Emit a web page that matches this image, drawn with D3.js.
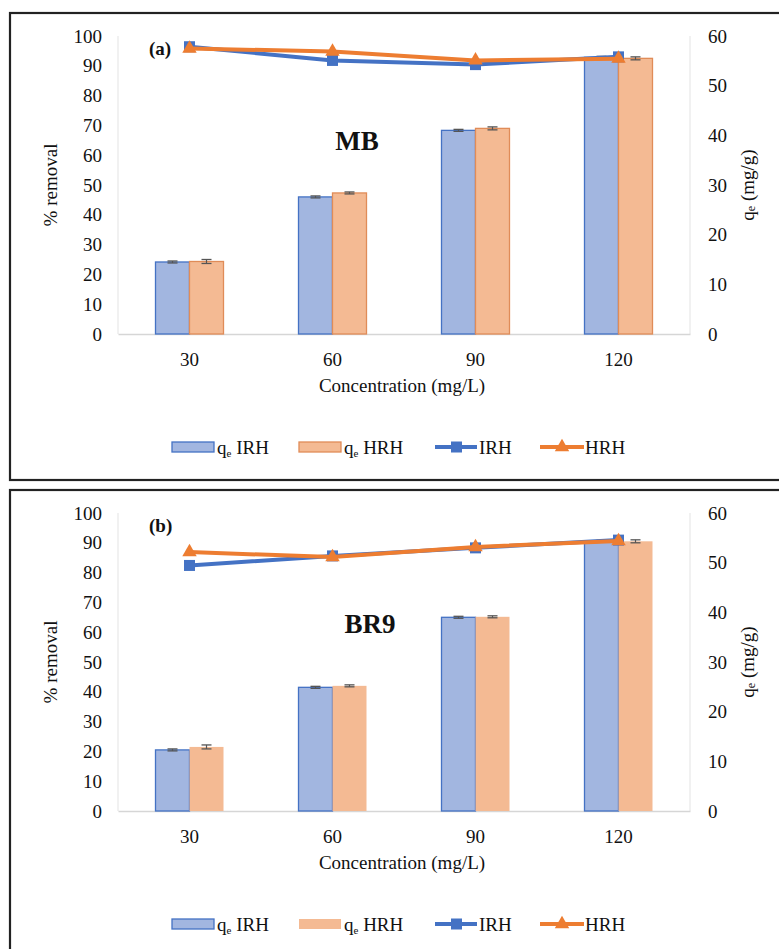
<!DOCTYPE html>
<html>
<head>
<meta charset="utf-8">
<script src="https://cdn.jsdelivr.net/npm/d3@7"></script>
<style>
  html, body { margin: 0; padding: 0; background: #fff; }
  svg { display: block; }
  svg text { font-family: "Liberation Serif", Tinos, "Times New Roman", "DejaVu Serif", serif !important; fill: #111; }
</style>
</head>
<body>
<svg id="chart" width="779" height="949"></svg>
<script>
// Concentrations on the x axis
const concentrations = ["30", "60", "90", "120"];

// Left axis: % removal ticks; right axis: qe ticks
const removalTicks = [0, 10, 20, 30, 40, 50, 60, 70, 80, 90, 100];
const qeTicks = [0, 10, 20, 30, 40, 50, 60];

// (a) MB
const mbRemovalIRH = [96.4, 91.8, 90.4, 93.0];
const mbRemovalHRH = [95.8, 94.8, 91.8, 92.4];
const mbQeIRH = [14.5, 27.6, 41.0, 55.7];
const mbQeHRH = [14.6, 28.4, 41.4, 55.5];
const mbQeErrIRH = [0.2, 0.2, 0.2, 0.2];
const mbQeErrHRH = [0.4, 0.2, 0.3, 0.3];

// (b) BR9
const br9RemovalIRH = [82.4, 85.6, 88.3, 90.9];
const br9RemovalHRH = [86.9, 85.2, 88.6, 90.6];
const br9QeIRH = [12.3, 24.9, 39.0, 54.3];
const br9QeHRH = [12.9, 25.2, 39.1, 54.3];
const br9QeErrIRH = [0.2, 0.2, 0.2, 0.2];
const br9QeErrHRH = [0.4, 0.2, 0.2, 0.3];

const blue = "#4472C4", orange = "#ED7D31";
const blueFill = "#A2B6E0", orangeFill = "#F4BA93";
const serif = '"Liberation Serif", Tinos, "Times New Roman", "DejaVu Serif", serif';

const svg = d3.select("#chart");

function drawPanel(opt) {
  const g = svg.append("g").attr("transform", `translate(0,${opt.top})`);

  // panel frame
  g.append("rect")
    .attr("x", 10).attr("y", 0)
    .attr("width", 790).attr("height", opt.frameH)
    .attr("fill", "none").attr("stroke", "#222").attr("stroke-width", 2.2);

  const x0 = 118, x1 = 690, yTop = 23, yBot = 321;
  const x = d3.scaleBand().domain(concentrations).range([x0, x1]);
  const yL = d3.scaleLinear().domain([0, 100]).range([yBot, yTop]);
  const yR = d3.scaleLinear().domain([0, 60]).range([yBot, yTop]);

  // axis frame lines (light grey)
  g.append("line").attr("x1", x0).attr("x2", x0).attr("y1", yTop).attr("y2", yBot)
    .attr("stroke", "#e3e3e3").attr("stroke-width", 1);
  g.append("line").attr("x1", x1).attr("x2", x1).attr("y1", yTop).attr("y2", yBot)
    .attr("stroke", "#e3e3e3").attr("stroke-width", 1);

  const styleTicks = sel => sel.selectAll("text")
    .style("font-size", "19px").style("font-family", serif).attr("fill", "#111");

  // left axis
  const gL = g.append("g").attr("transform", `translate(${x0},0)`)
    .call(d3.axisLeft(yL).tickValues(removalTicks).tickSize(0).tickPadding(16));
  gL.attr("font-family", null);
  gL.select(".domain").remove();
  styleTicks(gL);

  // right axis
  const gR = g.append("g").attr("transform", `translate(${x1},0)`)
    .call(d3.axisRight(yR).tickValues(qeTicks).tickSize(0).tickPadding(18));
  gR.attr("font-family", null);
  gR.select(".domain").remove();
  styleTicks(gR);

  // bottom axis
  const gB = g.append("g").attr("transform", `translate(0,${yBot})`)
    .call(d3.axisBottom(x).tickSize(0).tickPadding(19));
  gB.attr("font-family", null);
  gB.select(".domain").attr("stroke", "#d6d6d6").attr("stroke-width", 1.5);
  styleTicks(gB);

  // axis titles
  g.append("text")
    .attr("transform", `translate(50,${(yTop + yBot) / 2}) rotate(-90)`)
    .attr("text-anchor", "middle").attr("dominant-baseline", "central")
    .style("font-size", "19px").text("% removal");
  const rt = g.append("text")
    .attr("transform", `translate(747,${(yTop + yBot) / 2}) rotate(-90)`)
    .attr("text-anchor", "middle").attr("dominant-baseline", "central")
    .style("font-size", "19px");
  rt.append("tspan").text("q");
  rt.append("tspan").attr("dy", 4).style("font-size", "12px").text("e");
  rt.append("tspan").attr("dy", -4).text(" (mg/g)");
  g.append("text")
    .attr("x", (x0 + x1) / 2 - 2).attr("y", yBot + 58)
    .attr("text-anchor", "middle").style("font-size", "19px")
    .text("Concentration (mg/L)");

  // bars (right axis)
  const bw = 34;
  const cx = c => x(c) + x.bandwidth() / 2;
  const barSeries = [
    { vals: opt.qeIRH, err: opt.qeErrIRH, fill: blueFill, stroke: blue, off: -bw },
    { vals: opt.qeHRH, err: opt.qeErrHRH, fill: orangeFill, stroke: opt.orangeBarStroke, off: 0 }
  ];
  barSeries.forEach(s => {
    g.selectAll(null).data(concentrations).enter().append("rect")
      .attr("x", c => cx(c) + s.off)
      .attr("y", (c, i) => yR(s.vals[i]))
      .attr("width", bw)
      .attr("height", (c, i) => yR(0) - yR(s.vals[i]))
      .attr("fill", s.fill)
      .attr("stroke", s.stroke).attr("stroke-width", s.stroke === "none" ? 0 : 1.3);
    // error bars
    concentrations.forEach((c, i) => {
      const ex = cx(c) + s.off + bw / 2;
      const yh = yR(s.vals[i] + s.err[i]), yl = yR(s.vals[i] - s.err[i]);
      g.append("line").attr("x1", ex).attr("x2", ex).attr("y1", yh).attr("y2", yl)
        .attr("stroke", "#555").attr("stroke-width", 1.2);
      [yh, yl].forEach(yy => g.append("line")
        .attr("x1", ex - 5).attr("x2", ex + 5).attr("y1", yy).attr("y2", yy)
        .attr("stroke", "#555").attr("stroke-width", 1.3));
    });
  });

  // lines (left axis)
  const line = d3.line().x((d, i) => cx(concentrations[i])).y(d => yL(d));
  g.append("path").datum(opt.remIRH).attr("d", line)
    .attr("fill", "none").attr("stroke", blue).attr("stroke-width", 4);
  g.selectAll(null).data(opt.remIRH).enter().append("rect")
    .attr("x", (d, i) => cx(concentrations[i]) - 5.5)
    .attr("y", d => yL(d) - 5.5).attr("width", 11).attr("height", 11)
    .attr("fill", blue);
  g.append("path").datum(opt.remHRH).attr("d", line)
    .attr("fill", "none").attr("stroke", orange).attr("stroke-width", 4);
  const tri = d3.symbol().type(d3.symbolTriangle).size(90);
  g.selectAll(null).data(opt.remHRH).enter().append("path")
    .attr("d", tri)
    .attr("transform", (d, i) => `translate(${cx(concentrations[i])},${yL(d)})`)
    .attr("fill", orange);

  // panel labels
  g.append("text").attr("x", 149).attr("y", yTop + 19)
    .style("font-size", "19px").style("font-weight", "bold").text(opt.tag);
  g.append("text").attr("x", opt.nameX).attr("y", yTop + opt.nameY)
    .attr("text-anchor", "middle")
    .style("font-size", "27px").style("font-weight", "bold").text(opt.name);

  // legend
  const lg = g.append("g").attr("transform", "translate(0,434)");
  lg.append("rect").attr("x", 172).attr("y", -5).attr("width", 42).attr("height", 10)
    .attr("fill", blueFill).attr("stroke", blue).attr("stroke-width", 1.3);
  lg.append("rect").attr("x", 299).attr("y", -5).attr("width", 42).attr("height", 10)
    .attr("fill", orangeFill).attr("stroke", opt.orangeBarStroke)
    .attr("stroke-width", opt.orangeBarStroke === "none" ? 0 : 1.3);
  const lbl = (xx, txt, sub) => {
    const t = lg.append("text").attr("x", xx).attr("y", 7).style("font-size", "19px");
    if (sub) {
      t.append("tspan").text("q");
      t.append("tspan").attr("dy", 3).style("font-size", "11px").text("e");
      t.append("tspan").attr("dy", -3).text(" " + txt);
    } else t.text(txt);
  };
  lbl(217, "IRH", true);
  lbl(344, "HRH", true);
  lg.append("line").attr("x1", 435).attr("x2", 477).attr("y1", 0).attr("y2", 0)
    .attr("stroke", blue).attr("stroke-width", 4);
  lg.append("rect").attr("x", 451).attr("y", -5.5).attr("width", 11).attr("height", 11).attr("fill", blue);
  lbl(479, "IRH", false);
  lg.append("line").attr("x1", 540).attr("x2", 584).attr("y1", 0).attr("y2", 0)
    .attr("stroke", orange).attr("stroke-width", 4);
  lg.append("path").attr("d", tri).attr("transform", "translate(562,0)").attr("fill", orange);
  lbl(585, "HRH", false);
}

drawPanel({
  top: 13, frameH: 467, tag: "(a)", name: "MB", nameX: 357, nameY: 114,
  remIRH: mbRemovalIRH, remHRH: mbRemovalHRH,
  qeIRH: mbQeIRH, qeHRH: mbQeHRH, qeErrIRH: mbQeErrIRH, qeErrHRH: mbQeErrHRH,
  orangeBarStroke: "#E08C58"
});
drawPanel({
  top: 490, frameH: 480, tag: "(b)", name: "BR9", nameX: 370, nameY: 120,
  remIRH: br9RemovalIRH, remHRH: br9RemovalHRH,
  qeIRH: br9QeIRH, qeHRH: br9QeHRH, qeErrIRH: br9QeErrIRH, qeErrHRH: br9QeErrHRH,
  orangeBarStroke: "none"
});
</script>
</body>
</html>
